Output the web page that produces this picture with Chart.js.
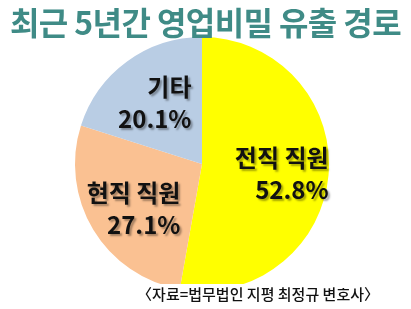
<!DOCTYPE html>
<html>
<head>
<meta charset="utf-8">
<script src="https://cdn.jsdelivr.net/npm/chart.js@4"></script>
<style>
    html, body { margin: 0; padding: 0; background: #fff; }
    #wrap { position: relative; width: 411px; height: 309px; overflow: hidden; }
    #title {
        position: absolute; left: 0; top: 0; width: 411px; text-align: center;
        font-family: "Noto Sans CJK KR", sans-serif; font-weight: 700; font-size: 32px;
        color: #3f8b86; line-height: 42px; letter-spacing: -0.6px;
    }
    #source {
        position: absolute; right: 30px; top: 284px;
        font-family: "Noto Sans CJK KR", sans-serif; font-weight: 500; font-size: 15px;
        color: #111; line-height: 20px; background: #fff; padding: 0 2px;
    }
    canvas { position: absolute; left: 0; top: 0; }
</style>
</head>
<body>
<div id="wrap">
    <canvas id="pieChart" width="411" height="309"></canvas>
    <div id="title">최근 5년간 영업비밀 유출 경로</div>
    <div id="source">〈자료=법무법인 지평 최정규 변호사〉</div>
</div>
<script>
// ===== DATA =====
const categories = ["전직 직원", "현직 직원", "기타"];
const shares = [52.8, 27.1, 20.1];
const sliceColors = ["#ffff00", "#fac192", "#b9cde4"];

// ===== LABELS INSIDE SLICES =====
const sliceLabels = {
    id: "sliceLabels",
    afterDatasetsDraw(chart) {
        const ctx = chart.ctx;
        const meta = chart.getDatasetMeta(0);
        ctx.save();
        ctx.font = "700 24px 'Noto Sans CJK KR', sans-serif";
        ctx.fillStyle = "#111";
        ctx.textAlign = "right";
        ctx.textBaseline = "middle";
        ctx.shadowColor = "rgba(0,0,0,0.35)";
        ctx.shadowOffsetX = 2;
        ctx.shadowOffsetY = 2;
        ctx.shadowBlur = 2;
        meta.data.forEach((arc, i) => {
            const mid = (arc.startAngle + arc.endAngle) / 2;
            const r = arc.outerRadius * 0.63;
            const cx = arc.x + Math.cos(mid) * r;
            const cy = arc.y + Math.sin(mid) * r + 3;
            const lines = [categories[i], shares[i].toFixed(1) + "%"];
            const w = Math.max(...lines.map(t => ctx.measureText(t).width));
            const right = cx + w / 2;
            ctx.fillText(lines[0], right, cy - 16);
            ctx.fillText(lines[1], right, cy + 16);
        });
        ctx.restore();
    }
};

new Chart(document.getElementById("pieChart"), {
    type: "pie",
    data: {
        labels: categories,
        datasets: [{
            data: shares,
            backgroundColor: sliceColors,
            borderWidth: 0
        }]
    },
    options: {
        responsive: false,
        animation: false,
        layout: { padding: { top: 37, bottom: 18, left: 75, right: 82 } },
        plugins: {
            legend: { display: false },
            tooltip: { enabled: false }
        }
    },
    plugins: [sliceLabels]
});
</script>
</body>
</html>
